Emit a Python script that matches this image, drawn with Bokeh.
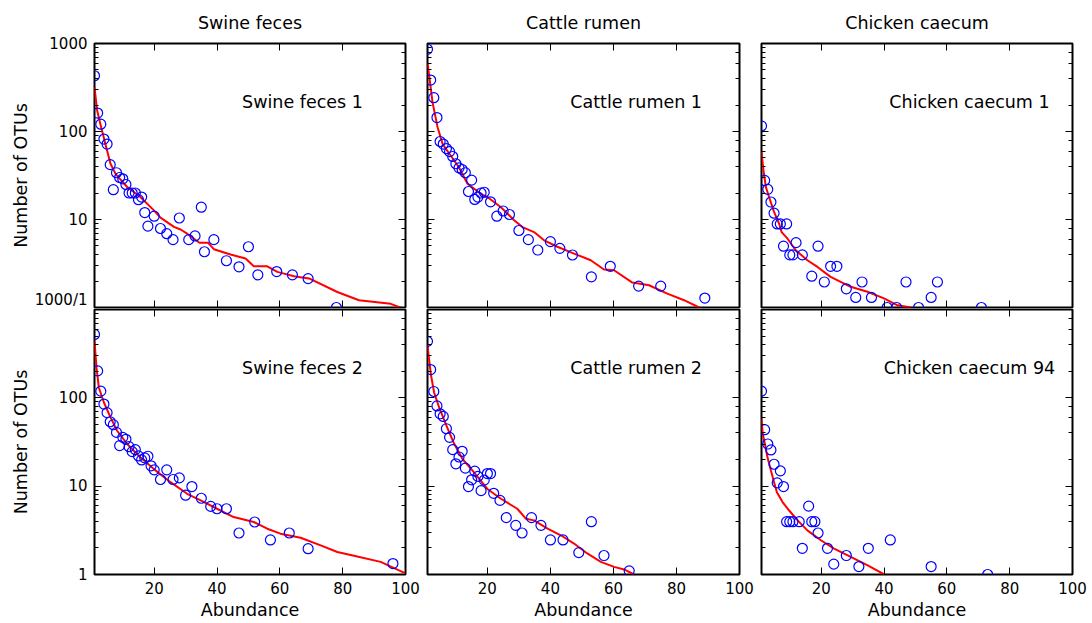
from bokeh.plotting import figure
from bokeh.layouts import column, row
from bokeh.models import Range1d, LogAxis, LinearAxis, FixedTicker, LogTicker, Label
from bokeh.embed import file_html
from bokeh.resources import INLINE

FONT = "DejaVu Sans"

col_titles = ["Swine feces", "Cattle rumen", "Chicken caecum"]
panel_names = [["Swine feces 1", "Cattle rumen 1", "Chicken caecum 1"],
               ["Swine feces 2", "Cattle rumen 2", "Chicken caecum 94"]]
x_ticks = [20, 40, 60, 80, 100]
y_tick_labels = {1: "1", 10: "10", 100: "100", 1000: "1000"}
x_label = "Abundance"
y_label = "Number of OTUs"

# ---- Swine feces 1 ----
swine1_x = [1, 2, 3, 4, 5, 6, 7, 8, 9, 10, 11, 12, 13, 14, 15, 16, 17, 18, 20, 22, 24, 26, 28, 31,
            33, 35, 36, 39, 43, 47, 50, 53, 59, 64, 69, 78]
swine1_y = [430, 162, 121, 82, 72, 42, 21.8, 34, 30, 29, 25, 20, 20, 20, 16.8, 18, 12, 8.4, 10.9, 7.9,
            6.9, 5.9, 10.4, 5.9, 6.5, 13.8, 4.3, 5.9, 3.4, 2.9, 4.9, 2.35, 2.56, 2.35, 2.13, 1.0]
swine1_fit_x = [1, 1.85, 2.9, 5.0, 6.1, 7.7, 11.4, 15.6, 19.9, 22.0, 26.3, 28.4, 30.5, 34.4, 37.1, 39.0,
                44.3, 49.1, 51.7, 56.0, 59.2, 64.5, 69.3, 78.3, 85.2, 95.3, 100]
swine1_fit_y = [317, 173, 120, 60.7, 43, 33, 23.4, 18.0, 12.7, 10.5, 8.25, 7.7, 6.9, 5.45, 5.45, 4.6,
                4.0, 3.6, 2.94, 2.94, 2.54, 2.27, 2.14, 1.5, 1.21, 1.1, 0.95]

# ---- Cattle rumen 1 ----
cattle1_x = [1, 2, 3, 4, 5, 6, 7, 8, 9, 10, 11, 12, 13, 14, 15, 16, 17, 18, 19, 21, 23, 25, 27, 30,
             33, 36, 40, 43, 47, 53, 59, 68, 75, 89]
cattle1_y = [860, 384, 242, 144, 77, 72, 64, 59, 52, 43, 38.6, 37, 34, 20.8, 28, 16.9, 18, 20, 20.4,
             15.9, 10.9, 12.5, 11.4, 7.5, 5.9, 4.5, 5.6, 4.7, 3.95, 2.23, 2.94, 1.75, 1.75, 1.28]
cattle1_fit_x = [1, 1.2, 2.6, 4.2, 5.8, 8.4, 11.0, 13.7, 17.9, 20.0, 24.3, 28.5, 31.1, 34.8, 38.0, 42.2,
                 47.5, 52.8, 57.0, 60.2, 66.0, 71.3, 77.1, 82.4, 87.2]
cattle1_fit_y = [600, 535, 214, 112, 72, 53, 39, 25.5, 19.6, 18, 13.8, 9.8, 8.2, 7.2, 5.8, 4.9,
                 4.1, 3.44, 2.7, 2.65, 1.92, 1.79, 1.44, 1.21, 1.0]

# ---- Chicken caecum 1 ----
chicken1_x = [1, 2, 3, 4, 5, 6, 7, 8, 9, 10, 11, 12, 14, 17, 19, 21, 23, 25, 28, 31, 33, 36, 41, 44,
              47, 51, 55, 57, 71]
chicken1_y = [115.6, 27.8, 22, 15.8, 11.8, 8.9, 8.9, 4.97, 8.9, 3.96, 3.96, 5.46, 3.96, 2.27, 4.97,
              1.95, 2.94, 2.94, 1.63, 1.3, 1.95, 1.3, 1, 1, 1.95, 1, 1.3, 1.95, 1]
chicken1_fit_x = [1, 1.64, 2.4, 3.4, 5.0, 6.6, 7.4, 9.3, 11.9, 15.6, 18.8, 23.0, 29.4, 34.7, 40.0,
                  44.3, 48.6]
chicken1_fit_y = [58, 36, 23.3, 18, 12.2, 9.0, 7.2, 6.05, 4.47, 3.44, 2.89, 2.23, 1.72, 1.51, 1.27,
                  1.06, 1.0]

# ---- Swine feces 2 ----
swine2_x = [1, 2, 3, 4, 5, 6, 7, 8, 9, 10, 11, 12, 13, 14, 15, 16, 17, 18, 19, 20, 22, 24, 26, 28,
            30, 32, 35, 38, 40, 43, 47, 52, 57, 63, 69, 96]
swine2_y = [522, 202, 119, 85, 68, 53.6, 49.6, 40.6, 28.8, 35.7, 33.9, 28, 24.6, 25.9, 22, 19.8, 20.9,
            21.8, 17, 15.3, 11.9, 15.3, 11.9, 12.4, 7.9, 9.9, 7.3, 5.9, 5.55, 5.55, 2.95, 3.93, 2.46,
            2.95, 1.96, 1.33]
swine2_fit_x = [1, 1.64, 2.38, 4.0, 6.1, 8.2, 11.4, 15.6, 19.8, 25.2, 30.5, 34.8, 40.0, 45.3, 51.7,
                56.0, 60.2, 66.6, 73.0, 78.3, 83.6, 92.1, 100]
swine2_fit_y = [440, 220, 131, 88.6, 60, 42.4, 30, 21.2, 15.7, 11.1, 8.2, 6.9, 5.55, 4.47, 3.93,
                3.3, 2.9, 2.61, 2.14, 1.8, 1.63, 1.39, 1.03]

# ---- Cattle rumen 2 ----
cattle2_x = [1, 2, 3, 4, 5, 6, 7, 8, 9, 10, 11, 12, 13, 14, 15, 16, 17, 18, 19, 20, 21, 22, 24, 26,
             29, 31, 34, 37, 40, 44, 49, 53, 57, 65]
cattle2_y = [436, 209, 118, 81, 66, 61.6, 44.7, 35.7, 25.9, 17.9, 21.4, 24.8, 16, 9.9, 11.8, 14.8,
             12.9, 8.9, 11.7, 13.9, 13.9, 8.3, 6.9, 4.4, 3.6, 2.95, 4.4, 3.6, 2.46, 2.46, 1.77, 3.96,
             1.64, 1.1]
cattle2_fit_x = [1, 1.2, 2.06, 3.1, 4.7, 6.8, 9.5, 12.1, 15.3, 20.0, 24.3, 29.5, 32.2, 34.8, 39.1,
                 43.3, 47.5, 51.7, 56.0, 60.2, 63.4, 66.5]
cattle2_fit_y = [400, 339, 185, 115, 77.8, 50.5, 30, 20.3, 15, 9.3, 7.2, 5.55, 4.28, 4.1, 3.3,
                 2.78, 2.24, 1.73, 1.39, 1.22, 1.14, 1.0]

# ---- Chicken caecum 94 ----
chicken94_x = [1, 2, 3, 4, 5, 6, 7, 8, 9, 10, 11, 13, 14, 16, 17, 18, 19, 22, 24, 28, 32, 35, 42,
               55, 73]
chicken94_y = [119, 43.6, 30, 25.7, 17.7, 10.9, 14.9, 9.9, 3.96, 3.96, 3.96, 3.96, 1.98, 5.94, 3.96,
               3.96, 2.95, 1.98, 1.31, 1.64, 1.23, 1.98, 2.46, 1.23, 1]
chicken94_fit_x = [1, 1.4, 2.1, 2.9, 4.0, 5.0, 5.9, 7.7, 9.8, 12.5, 15.6, 19.9, 24.1, 29.4, 34.8, 40.1]
chicken94_fit_y = [57.4, 38.9, 30, 21.2, 15, 11.1, 8.55, 6.6, 5.3, 4.1, 3.16, 2.44, 1.96, 1.58, 1.27,
                   1.0]

panels = [
    [(swine1_x, swine1_y, swine1_fit_x, swine1_fit_y),
     (cattle1_x, cattle1_y, cattle1_fit_x, cattle1_fit_y),
     (chicken1_x, chicken1_y, chicken1_fit_x, chicken1_fit_y)],
    [(swine2_x, swine2_y, swine2_fit_x, swine2_fit_y),
     (cattle2_x, cattle2_y, cattle2_fit_x, cattle2_fit_y),
     (chicken94_x, chicken94_y, chicken94_fit_x, chicken94_fit_y)],
]

TICK_FS = "15px"
LABEL_FS = "17.5px"


def style_axis(ax, show_labels):
    ax.axis_line_color = None
    ax.major_tick_in = 7
    ax.major_tick_out = 0
    ax.minor_tick_in = 4
    ax.minor_tick_out = 0
    ax.major_tick_line_color = "black"
    ax.minor_tick_line_color = "black"
    ax.major_label_text_font = FONT
    if show_labels:
        ax.major_label_text_font_size = TICK_FS
        ax.major_label_text_color = "black"
        ax.major_label_standoff = 7
    else:
        ax.major_label_text_font_size = "1px"
        ax.major_label_text_color = None
        ax.major_label_standoff = 0
    ax.axis_label_text_font = FONT
    ax.axis_label_text_font_size = LABEL_FS
    ax.axis_label_text_font_style = "normal"
    ax.axis_label_text_color = "black"


lefts = [94, 2, 2]
rights = [20, 20, 20]
fws = [311, 312, 311]

figs = []
for r in range(2):
    row_figs = []
    for c in range(3):
        px, py, fx, fy = panels[r][c]
        if r == 0:
            top, fh, bottom = 43, 264, 1
        else:
            top, fh, bottom = 1, 265, 49
        kw = {}
        if r == 0:
            kw["title"] = col_titles[c]
        p = figure(width=lefts[c] + fws[c] + rights[c], height=top + fh + bottom,
                   x_range=Range1d(1, 100), y_range=Range1d(1, 1000), y_axis_type="log",
                   output_backend="svg", toolbar_location=None,
                   min_border_left=lefts[c], min_border_right=rights[c],
                   min_border_top=top, min_border_bottom=bottom, **kw)
        p.background_fill_color = "white"
        p.border_fill_color = "white"
        p.outline_line_color = "black"
        p.outline_line_width = 2
        p.grid.visible = False
        if r == 0:
            p.title.align = "center"
            p.title.text_font = FONT
            p.title.text_font_size = LABEL_FS
            p.title.text_font_style = "normal"
            p.title.text_color = "black"
            p.title.standoff = 21

        xa = p.xaxis[0]
        xa.ticker = FixedTicker(ticks=x_ticks, minor_ticks=[])
        style_axis(xa, r == 1)
        if r == 1:
            xa.axis_label = x_label
            xa.axis_label_standoff = 3

        ya = p.yaxis[0]
        style_axis(ya, c == 0)
        if c == 0:
            ya.axis_label = y_label
            ov = dict(y_tick_labels)
            if r == 0:
                ov[1] = "1000/1"
                ya.axis_label_standoff = 1
            else:
                ov[1000] = " "
                ya.axis_label_standoff = 25
            ya.major_label_overrides = ov

        ra = LogAxis(ticker=LogTicker())
        style_axis(ra, False)
        p.add_layout(ra, "right")
        ta = LinearAxis(ticker=FixedTicker(ticks=x_ticks, minor_ticks=[]))
        style_axis(ta, False)
        p.add_layout(ta, "above")

        p.line(fx, fy, line_color="#ff0000", line_width=2)
        p.scatter(px, py, marker="circle", size=10, fill_color=None,
                  line_color="#0000ff", line_width=1.2)
        p.add_layout(Label(x=67.2, y=218.8, text=panel_names[r][c], text_align="center",
                           text_baseline="middle", text_font=FONT, text_font_size=LABEL_FS,
                           text_color="black"))
        row_figs.append(p)
    figs.append(row(*row_figs, spacing=0))

layout = column(*figs, spacing=0)
open("out.html", "w").write(file_html(layout, INLINE))
